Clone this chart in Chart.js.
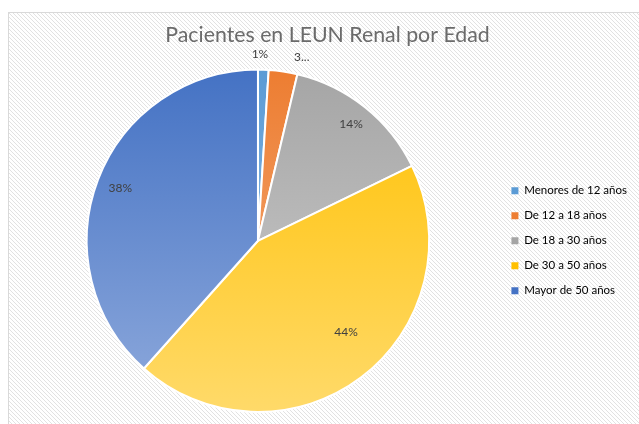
<!DOCTYPE html>
<html>
<head>
<meta charset="utf-8">
<script src="https://cdn.jsdelivr.net/npm/chart.js@4"></script>
<style>
  html, body { margin: 0; padding: 0; background: #fff; }
  #wrap { width: 639px; height: 424px; }
</style>
</head>
<body>
<div id="wrap"><canvas id="pieChart" width="639" height="424"></canvas></div>
<script>
const categories = ['Menores de 12 años', 'De 12 a 18 años', 'De 18 a 30 años', 'De 30 a 50 años', 'Mayor de 50 años'];
const percentValues = [1, 2.7, 14.1, 43.8, 38.4];
const dataLabels = ['1%', '3...', '14%', '44%', '38%'];

const baseColors = ['#5B9BD5', '#ED7D31', '#A5A5A5', '#FFC000', '#4472C4'];
const lightColors = ['#9DC3E6', '#F4B183', '#D0D0D0', '#FFDA6A', '#8FAADC'];

// posicion de etiquetas (factor de radio, ajuste de angulo en grados)
const labelRadius = [1.09, 1.1, 0.87, 0.74, 0.86];
const labelNudge = [-1.2, 5, 0, -7, 0];

const ctx = document.getElementById('pieChart').getContext('2d');

// fondo rayado tipo Excel
function makeHatch() {
  const p = document.createElement('canvas');
  p.width = 4; p.height = 4;
  const c = p.getContext('2d');
  c.fillStyle = '#ffffff';
  c.fillRect(0, 0, 4, 4);
  c.strokeStyle = '#e2e2e2';
  c.lineWidth = 1;
  c.beginPath();
  c.moveTo(0, 0); c.lineTo(4, 4);
  c.moveTo(-1, 3); c.lineTo(1, 5);
  c.moveTo(3, -1); c.lineTo(5, 1);
  c.stroke();
  return ctx.createPattern(p, 'repeat');
}

const backgroundPlugin = {
  id: 'hatchBg',
  beforeDraw(chart) {
    const c = chart.ctx;
    c.save();
    c.fillStyle = '#ffffff';
    c.fillRect(0, 0, chart.width, chart.height);
    c.fillStyle = makeHatch();
    c.fillRect(8, 12, chart.width - 8, chart.height - 12);
    c.strokeStyle = '#d9d9d9';
    c.lineWidth = 1;
    c.strokeRect(8.5, 12.5, chart.width + 10, chart.height + 10);
    c.restore();
  }
};

const labelPlugin = {
  id: 'sliceLabels',
  afterDatasetsDraw(chart) {
    const c = chart.ctx;
    const meta = chart.getDatasetMeta(0);
    c.save();
    c.font = '12px Lato';
    c.fillStyle = '#404040';
    c.textAlign = 'center';
    c.textBaseline = 'middle';
    meta.data.forEach((arc, i) => {
      const p = arc.getProps(['x', 'y', 'startAngle', 'endAngle', 'outerRadius'], true);
      const a = (p.startAngle + p.endAngle) / 2 + labelNudge[i] * Math.PI / 180;
      const r = p.outerRadius * labelRadius[i];
      c.fillText(dataLabels[i], p.x + Math.cos(a) * r, p.y + Math.sin(a) * r);
    });
    c.restore();
  }
};

function sliceGradient(context) {
  const chart = context.chart;
  const area = chart.chartArea;
  const i = context.dataIndex;
  if (!area) return baseColors[i];
  const g = chart.ctx.createLinearGradient(0, area.top, 0, area.bottom);
  g.addColorStop(0, baseColors[i]);
  g.addColorStop(1, lightColors[i]);
  return g;
}

new Chart(ctx, {
  type: 'pie',
  data: {
    labels: categories,
    datasets: [{
      data: percentValues,
      backgroundColor: sliceGradient,
      borderColor: '#ffffff',
      borderWidth: 2
    }]
  },
  options: {
    responsive: false,
    animation: false,
    layout: { padding: { left: 18, right: 2, top: 0, bottom: 11 } },
    plugins: {
      title: {
        display: true,
        text: 'Pacientes en LEUN Renal por Edad',
        color: '#6b6b6b',
        font: { family: 'Lato', size: 21.3, weight: 'normal' },
        padding: { top: 22, bottom: 21 }
      },
      legend: {
        position: 'right',
        fullSize: false,
        labels: {
          boxWidth: 7,
          boxHeight: 7,
          padding: 13.5,
          color: '#595959',
          font: { family: 'Lato', size: 11.5 },
          generateLabels: chart => chart.data.labels.map((l, i) => ({
            text: l,
            fillStyle: baseColors[i],
            strokeStyle: baseColors[i],
            lineWidth: 0,
            index: i
          }))
        }
      },
      tooltip: { enabled: false }
    }
  },
  plugins: [backgroundPlugin, labelPlugin]
});
</script>
</body>
</html>
